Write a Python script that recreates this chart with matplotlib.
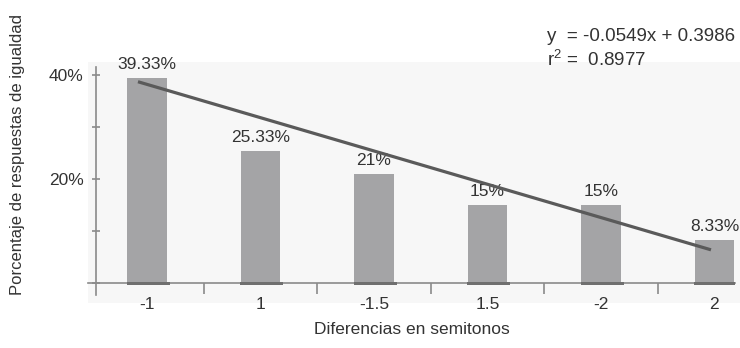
import matplotlib
matplotlib.use("Agg")
import matplotlib.pyplot as plt
from matplotlib.patches import Rectangle
from matplotlib.ticker import FixedLocator
import numpy as np

# Data
categories = ["-1", "1", "-1.5", "1.5", "-2", "2"]
percentages = [39.33, 25.33, 21, 15, 15, 8.33]
bar_labels = ["39.33%", "25.33%", "21%", "15%", "15%", "8.33%"]
# drawn trend line, as it appears on the chart (start / end value, %)
trend_values = [38.7, 6.4]
equation = "y  = -0.0549x + 0.3986"
r_squared = "r$^2$ =  0.8977"

plt.rcParams['font.family'] = ['Liberation Sans', 'DejaVu Sans']
plt.rcParams['mathtext.fontset'] = 'custom'
plt.rcParams['mathtext.rm'] = 'Liberation Sans'
text_color = '#333333'
axis_color = '#8a8a8a'

fig = plt.figure(figsize=(7.4, 3.48), dpi=100)
fig.patch.set_facecolor('white')
# faint grey panel behind the plot
fig.patches.append(Rectangle((0.119, 0.129), 0.881, 0.693, transform=fig.transFigure,
                             facecolor='#f7f7f7', edgecolor='none', zorder=-5))

ax = fig.add_axes([0.119, 0.152, 0.874, 0.655])
ax.set_facecolor('none')
ax.set_zorder(1)

x = np.arange(len(categories))
ax.bar(x, percentages, width=0.35, color='#a4a4a6', zorder=2)
# darker base under each bar
ax.bar(x + 0.01, [0.6] * len(x), bottom=-0.3, width=0.38, color='#6f6f6f', zorder=3)

# trend line
ax.plot([x[0] - 0.08, x[-1] - 0.03], trend_values, color='#5a5a5a', linewidth=2.3,
        solid_capstyle='butt', zorder=4)

for xi, val, lab in zip(x, percentages, bar_labels):
    ax.text(xi, val + 1.2, lab, ha='center', va='bottom', fontsize=12.5, color=text_color)

ax.set_xlim(-0.52, 5.18)
ax.set_ylim(-2.3, 41.5)

for side in ['top', 'right']:
    ax.spines[side].set_visible(False)
ax.spines['left'].set_position(('data', -0.45))
ax.spines['bottom'].set_position(('data', 0))
for side in ['left', 'bottom']:
    ax.spines[side].set_color(axis_color)
    ax.spines[side].set_linewidth(1.2)

ax.yaxis.set_major_locator(FixedLocator([0, 20, 40]))
ax.yaxis.set_minor_locator(FixedLocator([10, 30]))
ax.set_yticklabels(["", "20%", "40%"])
ax.tick_params(axis='y', which='both', direction='inout', length=6, width=1.2,
               color=axis_color, labelsize=12.5, labelcolor=text_color, pad=6)

ax.set_xticks(x)
ax.set_xticklabels(categories)
ax.xaxis.set_minor_locator(FixedLocator(x[:-1] + 0.5))
ax.tick_params(axis='x', which='major', length=0, pad=10, labelsize=12.5, labelcolor=text_color)
ax.tick_params(axis='x', which='minor', direction='out', length=8, width=1.2, color=axis_color)

ax.set_xlabel("Diferencias en semitonos", fontsize=12.5, color=text_color, labelpad=7)
fig.text(0.024, 0.555, "Porcentaje de respuestas de igualdad", rotation=90,
         ha='center', va='center', fontsize=12, color=text_color)

fig.text(0.739, 0.895, equation, fontsize=13.5, color=text_color, va='center')
fig.text(0.739, 0.83, r_squared, fontsize=13.5, color=text_color, va='center')

fig.savefig("out.png", dpi=100)
